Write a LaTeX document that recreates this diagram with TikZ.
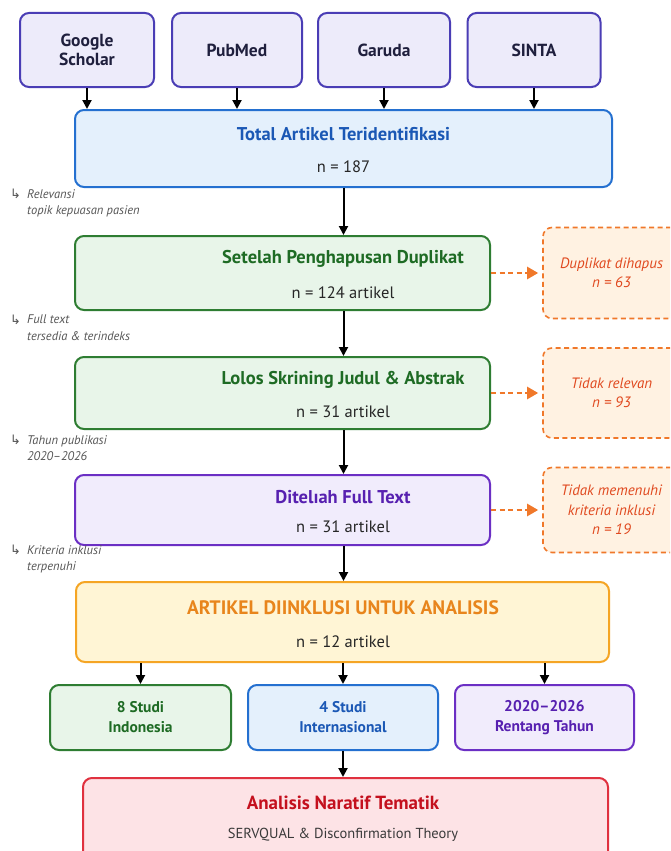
\documentclass[tikz,border=0pt]{standalone}
\usepackage{fontspec}
\setmainfont{PT Sans}
\newfontfamily\symfont{DejaVu Sans}
\usetikzlibrary{arrows.meta}
\definecolor{srcfill}{HTML}{EDEBFA}\definecolor{srcdraw}{HTML}{4A3DB5}\definecolor{srctext}{HTML}{1F1F3D}
\definecolor{bluefill}{HTML}{E4F0FC}\definecolor{bluedraw}{HTML}{2470D0}\definecolor{bluetext}{HTML}{1B58B5}
\definecolor{greenfill}{HTML}{E8F5E9}\definecolor{greendraw}{HTML}{2E7D32}\definecolor{greentext}{HTML}{1E6B24}
\definecolor{purplefill}{HTML}{F1ECFC}\definecolor{purpledraw}{HTML}{6B2FC4}\definecolor{purpletext}{HTML}{5720B0}
\definecolor{yellowfill}{HTML}{FFF5D5}\definecolor{yellowdraw}{HTML}{F5A524}\definecolor{yellowtext}{HTML}{E8851C}
\definecolor{redfill}{HTML}{FDE3E6}\definecolor{reddraw}{HTML}{E0313F}\definecolor{redtext}{HTML}{C4101E}
\definecolor{orfill}{HTML}{FFF2E2}\definecolor{ordraw}{HTML}{F0782A}\definecolor{ortext}{HTML}{E0481E}
\definecolor{notetext}{HTML}{555555}\definecolor{subtext}{HTML}{3A3A3A}
\tikzset{
  box/.style={draw, line width=2pt, rounded corners=9pt, inner sep=0pt},
  srcbox/.style={box, draw=srcdraw, fill=srcfill, minimum width=134pt, minimum height=74pt,
     text=srctext, font=\bfseries\fontsize{17.5}{20}\selectfont, align=center},
  bluebox/.style={box, draw=bluedraw, fill=bluefill},
  greenbox/.style={box, draw=greendraw, fill=greenfill},
  purplebox/.style={box, draw=purpledraw, fill=purplefill},
  yellowbox/.style={box, draw=yellowdraw, fill=yellowfill},
  redbox/.style={box, draw=reddraw, fill=redfill},
  sidebox/.style={draw=ordraw, fill=orfill, line width=1.6pt, dash pattern=on 5pt off 3.5pt,
     rounded corners=9pt, minimum width=137pt, text=ortext, align=center,
     font=\itshape\fontsize{15}{19.5}\selectfont, inner sep=0pt},
  ttl/.style={font=\bfseries\fontsize{18.5}{20}\selectfont, inner sep=0pt},
  cnt/.style={font=\fontsize{16.5}{18}\selectfont, text=black!85, inner sep=0pt},
  small/.style={font=\bfseries\fontsize{15.5}{20}\selectfont, align=center, inner sep=0pt},
  note/.style={font=\itshape\fontsize{12.5}{16.5}\selectfont, text=notetext, align=left, anchor=north west, inner sep=0pt},
  noteicon/.style={font=\symfont\fontsize{13}{13}\selectfont, text=notetext, anchor=north west, inner sep=0pt},
  arr/.style={line width=2pt, -{Triangle[length=9pt,width=9pt]}},
  darr/.style={draw=ordraw, line width=2.4pt, dash pattern=on 5pt off 3.5pt, -{Triangle[length=11pt,width=12pt]}, shorten >=4pt},
}
\begin{document}
\begin{tikzpicture}[x=1pt,y=-1pt]
\useasboundingbox (0,0) rectangle (670,851);
\clip (0,0) rectangle (670,851);
\fill[white] (0,0) rectangle (670,851);
% sources
\node[srcbox] (gs) at (87,50) {Google\\[-1pt]Scholar};
\node[srcbox, minimum width=130pt] (pm) at (237,50) {PubMed};
\node[srcbox, minimum width=132pt] (ga) at (384,50) {Garuda};
\node[srcbox, minimum width=133pt] (si) at (534,50) {SINTA};
% total
\node[bluebox, minimum width=537pt, minimum height=77pt] (tot) at (343.5,148.5) {};
\node[ttl, text=bluetext] (totT) at (343.5,134) {Total Artikel Teridentifikasi};
\node[cnt] (totN) at (343.5,167) {n = 187};
\foreach \s in {gs,pm,ga,si} \draw[arr] (\s.south) -- (\s.south |- tot.north);
% setelah
\node[greenbox, minimum width=415pt, minimum height=74pt] (set) at (282.5,273) {};
\node[ttl, text=greentext] (setT) at (343,259) {Setelah Penghapusan Duplikat};
\node[cnt] (setN) at (343,293) {n = 124 artikel};
% lolos
\node[greenbox, minimum width=415pt, minimum height=72pt] (lol) at (282.5,393) {};
\node[ttl, text=greentext] (lolT) at (343,380) {Lolos Skrining Judul \& Abstrak};
\node[cnt] (lolN) at (343,412) {n = 31 artikel};
% ditelaah
\node[purplebox, minimum width=415pt, minimum height=70pt] (dit) at (282.5,510) {};
\node[ttl, text=purpletext] (ditT) at (343,497) {Ditelıah Full Text};
\node[cnt] (ditN) at (343,527) {n = 31 artikel};
% artikel
\node[yellowbox, minimum width=533pt, minimum height=80pt] (art) at (342.5,622) {};
\node[ttl, text=yellowtext, font=\bfseries\fontsize{19.5}{21}\selectfont] (artT) at (343,608) {ARTIKEL DIINKLUSI UNTUK ANALISIS};
\node[cnt] (artN) at (343,642) {n = 12 artikel};
% main arrows
\draw[arr] (tot.south) -- (tot.south |- set.north);
\draw[arr] (tot.south |- set.south) -- (tot.south |- lol.north);
\draw[arr] (tot.south |- lol.south) -- (tot.south |- dit.north);
\draw[arr] (tot.south |- dit.south) -- (tot.south |- art.north);
% side boxes
\node[sidebox, minimum height=91pt] (sd1) at (611.5,273) {Duplikat dihapus\\n = 63};
\node[sidebox, minimum height=90pt] (sd2) at (611.5,393) {Tidak relevan\\n = 93};
\node[sidebox, minimum height=85pt] (sd3) at (611.5,510) {Tidak memenuhi\\kriteria inklusi\\n = 19};
\draw[darr] (set.east |- sd1.west) -- (sd1.west);
\draw[darr] (lol.east |- sd2.west) -- (sd2.west);
\draw[darr] (dit.east |- sd3.west) -- (sd3.west);
% notes
\node[noteicon] (ic1) at (10,189) {↳};
\node[note] (n1) at (27,189) {Relevansi\\topik kepuasan pasien};
\node[noteicon] (ic2) at (10,315) {↳};
\node[note] (n2) at (27,315) {Full text\\tersedia \& terindeks};
\node[noteicon] (ic3) at (10,435) {↳};
\node[note] (n3) at (27,435) {Tahun publikasi\\2020–2026};
\node[noteicon] (ic4) at (10,545) {↳};
\node[note] (n4) at (27,545) {Kriteria inklusi\\terpenuhi};
% bottom row
\node[greenbox, minimum width=181pt, minimum height=65pt, small, text=greentext] (s8) at (140.5,717.5) {8 Studi\\Indonesia};
\node[bluebox, minimum width=190pt, minimum height=65pt, small, text=bluetext] (s4) at (343,717.5) {4 Studi\\Internasional};
\node[purplebox, minimum width=179pt, minimum height=65pt, small, text=purpletext] (sy) at (544.5,717.5) {2020–2026\\Rentang Tahun};
\foreach \s in {s8,s4,sy} \draw[arr] (\s.north |- art.south) -- (\s.north);
% analisis
\node[redbox, minimum width=525pt, minimum height=94pt] (ana) at (345.5,825) {};
\node[ttl, text=redtext, font=\bfseries\fontsize{19}{21}\selectfont] (anaT) at (343,803) {Analisis Naratif Tematik};
\node[cnt, text=subtext, font=\fontsize{14.5}{16}\selectfont] (anaS) at (343,835) {SERVQUAL \& Disconfirmation Theory};
\draw[arr] (s4.south) -- (s4.south |- ana.north);
\end{tikzpicture}
\end{document}
